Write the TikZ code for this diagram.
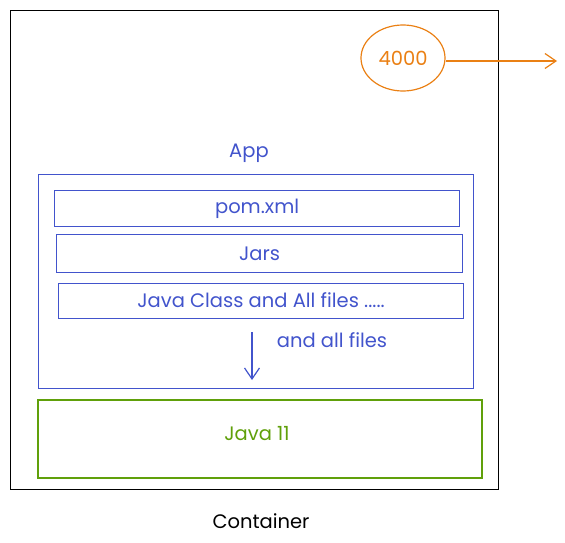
\documentclass[tikz,border=0pt]{standalone}
\usepackage{fontspec}
\newfontfamily\handfont{Poppins}
\usetikzlibrary{arrows.meta,shapes.geometric,positioning}
\definecolor{appblue}{RGB}{66,84,204}
\definecolor{portorange}{RGB}{234,128,20}
\definecolor{jdkgreen}{RGB}{96,160,10}

\begin{document}
\begin{tikzpicture}[x=1pt,y=-1pt,
  box/.style={draw,line width=1.2pt,inner sep=0pt,anchor=north west},
  lbl/.style={font=\handfont\fontsize{19.5}{23}\selectfont,inner sep=0pt},
  openarrow/.style={-{Straight Barb[length=11pt,width=15pt]},line width=1.2pt}]
\useasboundingbox (0,0) rectangle (565,543);

\node[box,draw=black,line width=1.3pt,minimum width=488pt,minimum height=479pt] (container) at (10,10) {};
\node[lbl,text=black] (containerlbl) at (261,521) {Container};

\node[ellipse,draw=portorange,line width=1.2pt,minimum width=84pt,minimum height=66pt,
  lbl,text=portorange] (port) at (403,58) {4000};
\coordinate (portout) at (557,61);
\draw[openarrow,portorange] (port.east |- portout) -- (portout);

\node[lbl,text=appblue] (applbl) at (249,153) {App};
\node[box,draw=appblue,minimum width=435pt,minimum height=214pt] (app) at (38,174) {};
\node[box,draw=appblue,minimum width=405pt,minimum height=36pt] (pom) at (54,190) {};
\node[lbl,text=appblue] at (pom.center) {pom.xml};
\node[box,draw=appblue,minimum width=406pt,minimum height=38pt] (jars) at (56,234) {};
\node[lbl,text=appblue] at (jars.center) {Jars};
\node[box,draw=appblue,minimum width=405pt,minimum height=35pt] (classes) at (58,283) {};
\node[lbl,text=appblue] at (261,300) {Java Class and All files .....};

\coordinate (arrtop) at (252,332);
\coordinate (arrbot) at (252,380);
\draw[openarrow,appblue] (arrtop) -- (arrbot);
\node[lbl,text=appblue] (allfiles) at (332,340) {and all files};

\node[box,draw=jdkgreen,line width=1.6pt,minimum width=444pt,minimum height=78pt] (jdk) at (37,399) {};
\node[lbl,text=jdkgreen] at (257,434) {Java 11};
\end{tikzpicture}
\end{document}
